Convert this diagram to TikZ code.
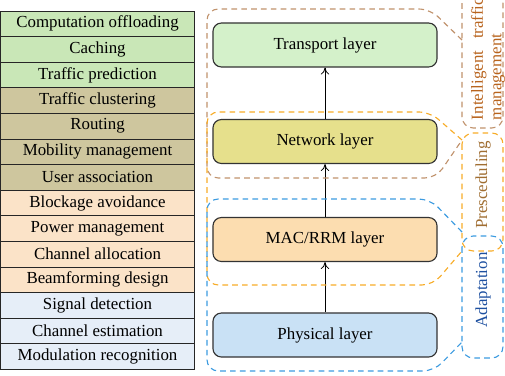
\documentclass[tikz,border=0pt]{standalone}
\usepackage{fontspec}
\setmainfont{Liberation Serif}
\usepackage{xcolor}
\definecolor{green1}{RGB}{201,231,183}
\definecolor{olive1}{RGB}{206,198,158}
\definecolor{peach1}{RGB}{251,227,200}
\definecolor{blue1}{RGB}{230,238,248}
\definecolor{transfill}{RGB}{212,241,202}
\definecolor{netfill}{RGB}{230,224,140}
\definecolor{macfill}{RGB}{252,221,176}
\definecolor{phyfill}{RGB}{201,225,245}
\definecolor{brown3}{RGB}{192,146,108}
\definecolor{orange3}{RGB}{247,172,40}
\definecolor{blue3}{RGB}{60,155,224}
\definecolor{browntext}{RGB}{184,100,30}
\definecolor{oranget}{RGB}{160,110,50}
\definecolor{bluetext}{RGB}{30,80,160}
\usetikzlibrary{arrows.meta}

\begin{document}
\begin{tikzpicture}[x=0.025cm, y=-0.025cm,
    >={To[length=5pt,width=6pt]},
    task/.style={draw=black!85, line width=0.7pt, minimum width=4.825cm,
        minimum height=0.64cm, inner sep=0pt, font=\fontsize{12}{14}\selectfont},
    layer/.style={draw=black!80, line width=0.8pt, rounded corners=6pt,
        minimum width=5.6cm, minimum height=1.1cm, font=\fontsize{12}{14}\selectfont},
    region/.style={line width=0.8pt, dash pattern=on 4pt off 3pt, rounded corners=8pt},
    tag/.style={rotate=90, inner sep=0pt, font=\fontsize{12}{13}\selectfont}]

\useasboundingbox (0,0) rectangle (505,375);

% Task list on the left
\foreach \txt/\col [count=\i] in {Computation offloading/green1, Caching/green1,
    Traffic prediction/green1, Traffic clustering/olive1, Routing/olive1,
    Mobility management/olive1, User association/olive1,
    Blockage avoidance/peach1, Power management/peach1,
    Channel allocation/peach1, Beamforming design/peach1,
    Signal detection/blue1, Channel estimation/blue1,
    Modulation recognition/blue1}
  \node[task, fill=\col] (task\i) at (97.5, {11+25.6*(\i-0.5)}) {\txt};

% Protocol layers
\node[layer, fill=transfill] (trans) at (325,45) {Transport layer};
\node[layer, fill=netfill] (net) at (325,141.5) {Network layer};
\node[layer, fill=macfill] (mac) at (325,239.5) {MAC/RRM layer};
\node[layer, fill=phyfill] (phy) at (325,335) {Physical layer};

\draw[->, line width=0.6pt] (phy) -- (mac);
\draw[->, line width=0.6pt] (mac) -- (net);
\draw[->, line width=0.6pt] (net) -- (trans);

% Intelligent traffic management
\draw[region, brown3] (462,40) -- (430,9) -- (207,9) -- (207,178)
    -- (436,178) -- (462,140);
\draw[region, brown3] (462,-8) rectangle (503,128);
\node[tag, browntext, text width=3.05cm, align=justify] (itm) at (488,59)
    {Intelligent traffic management};

% Presceduling
\draw[region, orange3] (462,140) -- (430,112) -- (207,112) -- (207,285)
    -- (433,285) -- (462,251);
\draw[region, orange3] (462,133) rectangle (503,251);
\node[tag, oranget] (presc) at (483,185) {Presceduling};

% Adaptation
\draw[region, blue3] (462,232) -- (430,199) -- (207,199) -- (207,371)
    -- (434,371) -- (462,342);
\draw[region, blue3] (462,236) rectangle (503,358);
\node[tag, bluetext] (adapt) at (483,290) {Adaptation};

\end{tikzpicture}
\end{document}
